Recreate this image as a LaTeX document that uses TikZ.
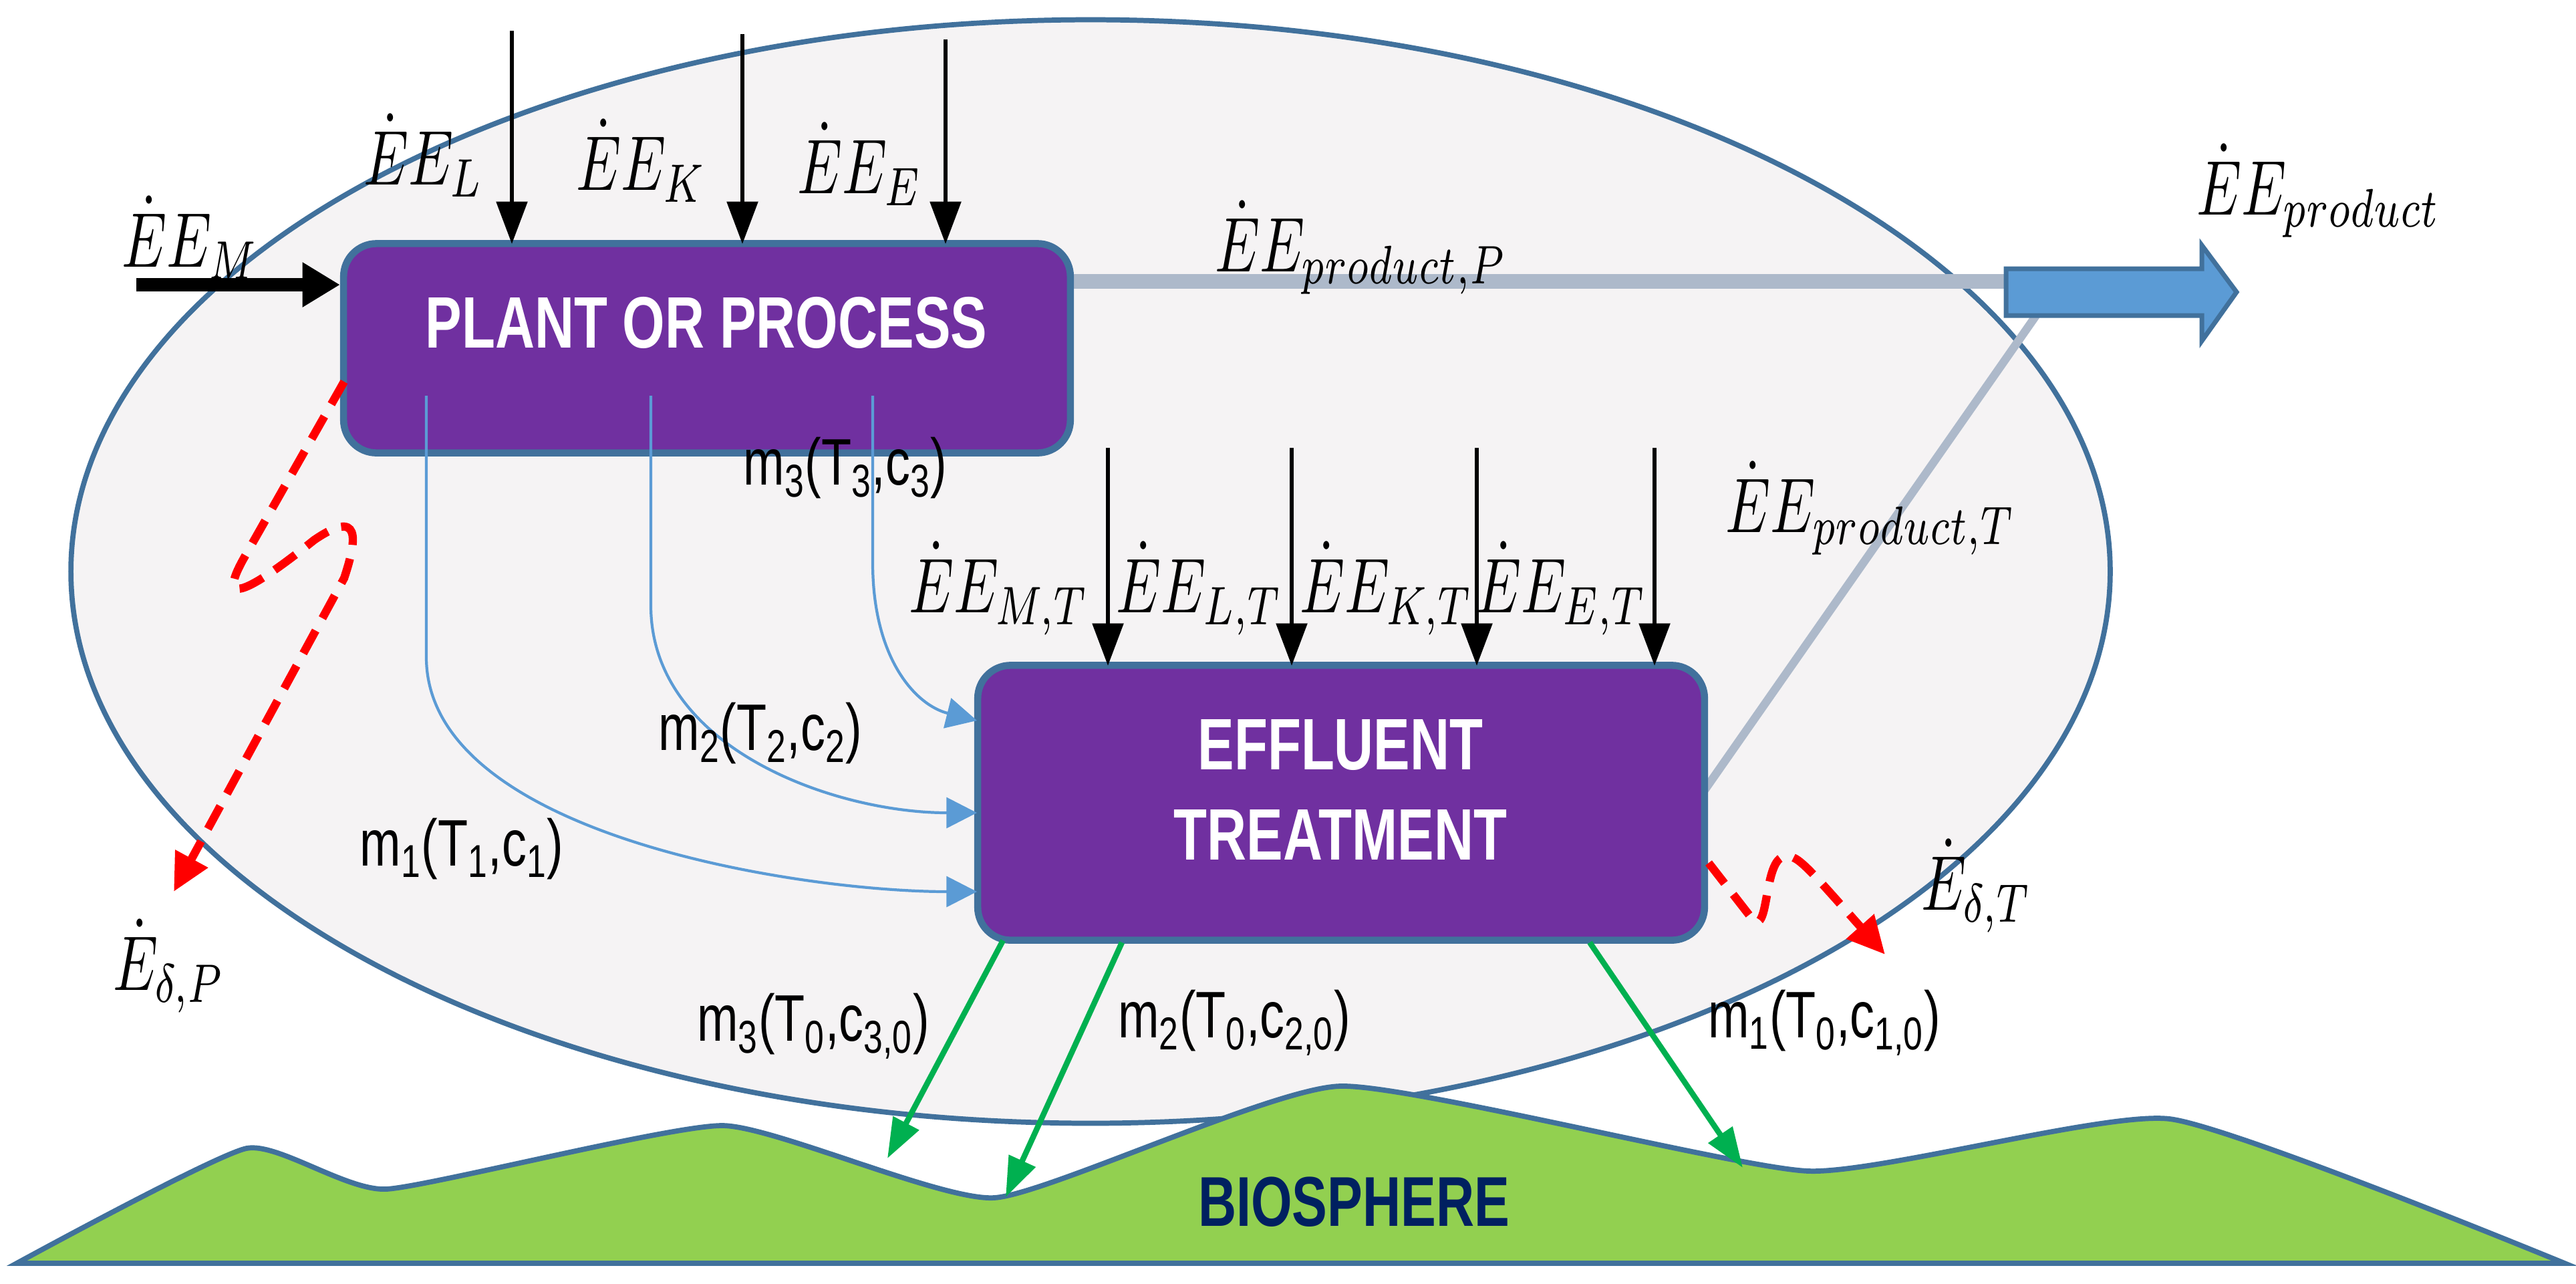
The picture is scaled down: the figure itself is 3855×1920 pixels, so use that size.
\documentclass[tikz,border=0pt]{standalone}
\usepackage{fontspec}
\newfontfamily\cond[FakeStretch=0.75]{Liberation Sans}
\usetikzlibrary{arrows.meta,shapes.geometric}
\definecolor{ellfill}{HTML}{F5F3F4}
\definecolor{bord}{HTML}{41719C}
\definecolor{purp}{HTML}{7030A0}
\definecolor{greyl}{HTML}{ADB9CA}
\definecolor{bluea}{HTML}{5B9BD5}
\definecolor{grn}{HTML}{92D050}
\definecolor{garr}{HTML}{00B050}
\definecolor{navy}{HTML}{002060}
\newcommand\ml[1]{\scalebox{2.4}[3.3]{$#1$}}
\newcommand\mt[1]{{\cond\fontsize{28}{30}\selectfont #1}}
\tikzset{
  box/.style={draw=bord,line width=3pt,fill=purp,rounded corners=14pt,inner sep=0pt},
  btxt/.style={text=white,inner sep=0pt,font=\cond\bfseries\fontsize{31}{50}\selectfont},
  lab/.style={inner sep=0pt},
  inarr/.style={line width=1.8pt,-{Triangle[length=18pt,width=13pt]}},
  marr/.style={bluea,line width=1.2pt,-{Triangle[length=13pt,width=13pt]}},
  garrow/.style={garr,line width=2.4pt,-{Triangle[length=17pt,width=12pt]}},
  loss/.style={red,line width=3.5pt,dash pattern=on 11pt off 6pt,-{Triangle[length=16pt,width=15pt]}},
}
\begin{document}
\begin{tikzpicture}[x=0.01cm,y=-0.01cm]
\useasboundingbox (0,0) rectangle (3855,1920);
% system boundary
\node[draw=bord,line width=2.2pt,fill=ellfill,ellipse,minimum width=30.5cm,minimum height=16.5cm,inner sep=0pt] (ell) at (1632,855) {};
% biosphere
\path[draw=bord,line width=2.2pt,fill=grn] plot[smooth,tension=0.3] coordinates
  {(25,1890) (369,1718) (578,1779) (1082,1684) (1488,1792) (2005,1625) (2706,1752) (3247,1674) (3838,1890)} -- cycle;
\node[lab,text=navy,font=\cond\bfseries\fontsize{30}{32}\selectfont] (bio) at (2026,1798) {BIOSPHERE};
% product flows
\coordinate (pp) at (1602,421);
\coordinate (pa) at (3002,421);
\coordinate (pt) at (3047,472);
\coordinate (et) at (2551,1182);
\draw[greyl,line width=6.3pt] (pp) -- (pa);
\draw[greyl,line width=3.5pt] (et) -- (pt);
\draw[bord,line width=2pt,fill=bluea] (3002,402)--(3295,402)--(3295,367)--(3347,437)--(3295,510)--(3295,472)--(3002,472)--cycle;
% boxes
\node[box,minimum width=10.87cm,minimum height=3.13cm] (plant) at (1058,521) {};
\node[btxt] (pl) at (1057,483) {PLANT OR PROCESS};
\node[box,minimum width=10.87cm,minimum height=4.11cm] (eff) at (2007,1201) {};
\node[btxt] (ef1) at (2006,1115) {EFFLUENT};
\node[btxt] (ef2) at (2006,1249) {TREATMENT};
% inputs plant
\coordinate (m0) at (204,426);
\draw[line width=5.5pt,-{Triangle[length=16pt,width=18pt]}] (m0) -- (plant.west |- m0);
\foreach \x/\t/\n in {766/46/a,1111/51/b,1415/59/c}{
  \coordinate (t\n) at (\x,\t);
  \draw[inarr] (t\n) -- (\x,365);
}
\node[lab] (lm) at (285,355) {\ml{\dot{E}E_{M}}};
\node[lab] (ll) at (634,232) {\ml{\dot{E}E_{L}}};
\node[lab] (lk) at (960,240) {\ml{\dot{E}E_{K}}};
\node[lab] (le) at (1287,245) {\ml{\dot{E}E_{E}}};
% inputs effluent
\foreach \x/\n in {1658/a,1933/b,2210/c,2476/d}{
  \coordinate (u\n) at (\x,670);
  \draw[inarr] (u\n) -- (\x,996);
}
\node[lab] (lmt) at (1495,880) {\ml{\dot{E}E_{M,T}}};
\node[lab] (llt) at (1795,880) {\ml{\dot{E}E_{L,T}}};
\node[lab] (lkt) at (2075,880) {\ml{\dot{E}E_{K,T}}};
\node[lab] (let) at (2337,880) {\ml{\dot{E}E_{E,T}}};
\node[lab] (lpp) at (2037,370) {\ml{\dot{E}E_{product,P}}};
\node[lab] (lpr) at (3470,285) {\ml{\dot{E}E_{product}}};
\node[lab] (lpt) at (2800,760) {\ml{\dot{E}E_{product,T}}};
% mass flows plant -> effluent
\coordinate (s1) at (638,592);
\coordinate (s2) at (974,592);
\coordinate (s3) at (1306,592);
\draw[marr] (s1) -- (638,983) .. controls (638,1250) and (1200,1334) .. (1462,1334);
\draw[marr] (s2) -- (974,906) .. controls (974,1120) and (1250,1216) .. (1462,1216);
\draw[marr] (s3) -- (1306,842) .. controls (1306,985) and (1370,1055) .. (1462,1078);
\node[lab] (m3) at (1265,700) {\mt{m\textsubscript{3}(T\textsubscript{3},c\textsubscript{3})}};
\node[lab] (m2) at (1138,1097) {\mt{m\textsubscript{2}(T\textsubscript{2},c\textsubscript{2})}};
\node[lab] (m1) at (691,1270) {\mt{m\textsubscript{1}(T\textsubscript{1},c\textsubscript{1})}};
% outflows to biosphere
\coordinate (b1) at (1328,1733);
\coordinate (b2) at (1505,1791);
\coordinate (b3) at (2608,1747);
\draw[garrow] (1501,1407) -- (b1);
\draw[garrow] (1679,1410) -- (b2);
\draw[garrow] (2379,1410) -- (b3);
\node[lab] (o3) at (1217,1535) {\mt{m\textsubscript{3}(T\textsubscript{0},c\textsubscript{3,0})}};
\node[lab] (o2) at (1847,1530) {\mt{m\textsubscript{2}(T\textsubscript{0},c\textsubscript{2,0})}};
\node[lab] (o1) at (2730,1530) {\mt{m\textsubscript{1}(T\textsubscript{0},c\textsubscript{1,0})}};
% exergy destruction
\coordinate (dp) at (515,571);
\coordinate (dt) at (2557,1291);
\draw[loss] (dp) -- (365,835) .. controls (320,915) and (380,880) .. (470,808) .. controls (540,760) and (535,805) .. (515,865) -- (260,1334);
\draw[loss] (dt) -- (2620,1372) .. controls (2648,1408) and (2638,1292) .. (2668,1282) .. controls (2688,1276) and (2700,1292) .. (2821,1428);
\node[lab] (ldp) at (253,1445) {\ml{\dot{E}_{\delta,P}}};
\node[lab] (ldt) at (2958,1325) {\ml{\dot{E}_{\delta,T}}};
\end{tikzpicture}
\end{document}
